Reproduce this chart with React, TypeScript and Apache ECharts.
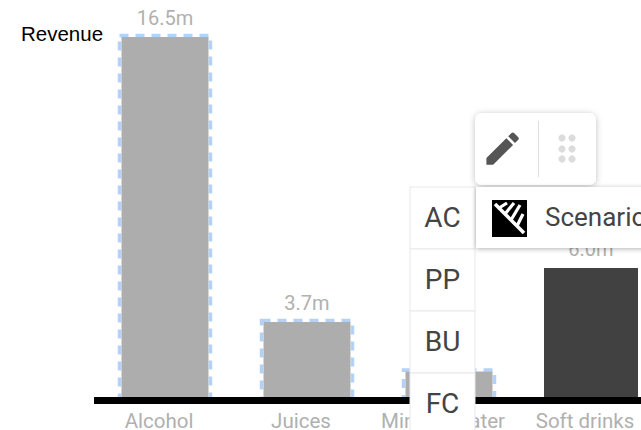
import React, { useEffect, useRef } from "react";
import * as echarts from "echarts";

const categories = ["Alcohol", "Juices", "Mineral water", "Soft drinks"];
const highlighted = [16.5, 3.55, 1.3, null];
const plain = [null, null, null, 6.0];
const valueLabels = ["16.5m", "3.7m", "1.2m", "6.0m"];
const scenarioCodes = ["AC", "PP", "BU", "FC"];
const scenarioTitle = "Scenario";
const axisTitle = "Revenue";

echarts.graphic.registerShape(
  "pencil",
  echarts.graphic.extendPath(
    "M3 17.25V21h3.75L17.81 9.94l-3.75-3.75L3 17.25zM20.71 7.04c.39-.39.39-1.02 0-1.41l-2.34-2.34c-.39-.39-1.02-.39-1.41 0l-1.83 1.83 3.75 3.75 1.83-1.83z",
    {},
  ) as any,
);

const labelFor = (p: any) => valueLabels[p.dataIndex];
const label = {
  show: true,
  position: "top" as const,
  formatter: labelFor,
  fontFamily: "Roboto",
  fontSize: 20,
  color: "#b0b0b0",
  distance: 9,
};

const row = (code: string, i: number) => {
  const y = 187 + i * 62;
  return [
    { type: "rect", z: 20, shape: { x: 410, y, width: 65, height: 62 }, style: { fill: "#fff", stroke: "#e8e8ec", lineWidth: 1 } },
    { type: "text", z: 21, style: { x: 442.5, y: y + 30, text: code, align: "center", verticalAlign: "middle", fontFamily: "Roboto", fontSize: 28, fill: "#444" } },
  ];
};

const teeth = [
  [499, 208, 507, 203],
  [505, 214, 514, 203],
  [511, 220, 520, 205],
  [517, 226, 523, 214],
].map(([x1, y1, x2, y2]) => ({
  type: "line",
  z: 32,
  shape: { x1, y1, x2, y2 },
  style: { stroke: "#fff", lineWidth: 3.2 },
}));

const overlays = [
  {
    type: "text",
    z: 10,
    style: { x: 21, y: 33, text: axisTitle, verticalAlign: "middle", fontFamily: "Liberation Sans", fontSize: 20.5, fill: "#000" },
  },
  // toolbar
  {
    type: "rect",
    z: 30,
    shape: { x: 475, y: 113, width: 121, height: 72, r: 7 },
    style: { fill: "#fff", shadowBlur: 6, shadowColor: "rgba(0,0,0,0.25)", shadowOffsetY: 1 },
  },
  { type: "pencil", z: 31, x: 481, y: 127, scaleX: 1.8, scaleY: 1.8, style: { fill: "#555" } },
  { type: "line", z: 31, shape: { x1: 538.5, y1: 121, x2: 538.5, y2: 177 }, style: { stroke: "#ddd", lineWidth: 1 } },
  ...[562, 572].flatMap((cx) =>
    [138, 149, 159].map((cy) => ({
      type: "circle",
      z: 31,
      shape: { cx, cy, r: 3.6 },
      style: { fill: "#dcdcdc" },
    })),
  ),
  // list
  ...scenarioCodes.flatMap(row),
  // scenario bar
  {
    type: "rect",
    z: 30,
    shape: { x: 476, y: 187, width: 180, height: 61 },
    style: { fill: "#fff", shadowBlur: 5, shadowColor: "rgba(0,0,0,0.3)", shadowOffsetY: 1 },
  },
  { type: "rect", z: 31, shape: { x: 492, y: 200, width: 35, height: 37 }, style: { fill: "#000" } },
  { type: "line", z: 32, shape: { x1: 495, y1: 204, x2: 524, y2: 233 }, style: { stroke: "#fff", lineWidth: 3.5 } },
  ...teeth,
  {
    type: "text",
    z: 31,
    style: { x: 545, y: 217, text: scenarioTitle, verticalAlign: "middle", fontFamily: "Roboto", fontSize: 26, fill: "#444" },
  },
];

const renderOutline = (_: any, api: any) => {
  const [cx, top] = api.coord([api.value(0), api.value(1)]);
  const [, base] = api.coord([api.value(0), 0]);
  return {
    type: "rect",
    shape: { x: cx - 45.5, y: top - 1.5, width: 91, height: base - top + 1.5 },
    style: { fill: "none", stroke: "#b4d2f7", lineWidth: 3.5, lineDash: [9, 7] },
  };
};

export default function App() {
  const ref = useRef<HTMLDivElement>(null);
  useEffect(() => {
    document.body.style.margin = "0";
    document.body.style.overflow = "hidden";
    const chart = echarts.init(ref.current!, undefined, { renderer: "svg" });
    chart.setOption({
      animation: false,
      grid: { left: 94, top: 37, width: 568, height: 363, containLabel: false, outerBoundsMode: "none" },
      xAxis: [
        {
          type: "category",
          data: categories,
          offset: 2,
          z: 5,
          axisTick: { show: false },
          axisLine: { lineStyle: { color: "#000", width: 7, cap: "butt" } },
          axisLabel: { fontFamily: "Roboto", fontSize: 20.5, color: "#b0b0b0", margin: 8, interval: 0, padding: [0, 12, 0, 0] },
        },
        { type: "category", data: categories, show: false },
      ],
      yAxis: { type: "value", show: false, min: 0, max: 16.5, splitLine: { show: false } },
      series: [
        {
          type: "custom",
          xAxisIndex: 0,
          z: 1,
          clip: false,
          data: highlighted.flatMap((v, i) => (v === null ? [] : [[i, v]])),
          encode: { x: 0, y: 1 },
          renderItem: renderOutline,
        },
        {
          type: "bar",
          data: highlighted,
          xAxisIndex: 0,
          barWidth: 87,
          z: 2,
          itemStyle: { color: "#adadad" },
          label,
        },
        {
          type: "bar",
          data: plain,
          xAxisIndex: 1,
          barWidth: 94,
          z: 2,
          itemStyle: { color: "#414141" },
          label,
        },
      ],
      graphic: { elements: overlays },
    });
    return () => chart.dispose();
  }, []);
  return <div ref={ref} style={{ width: 641, height: 430 }} />;
}
